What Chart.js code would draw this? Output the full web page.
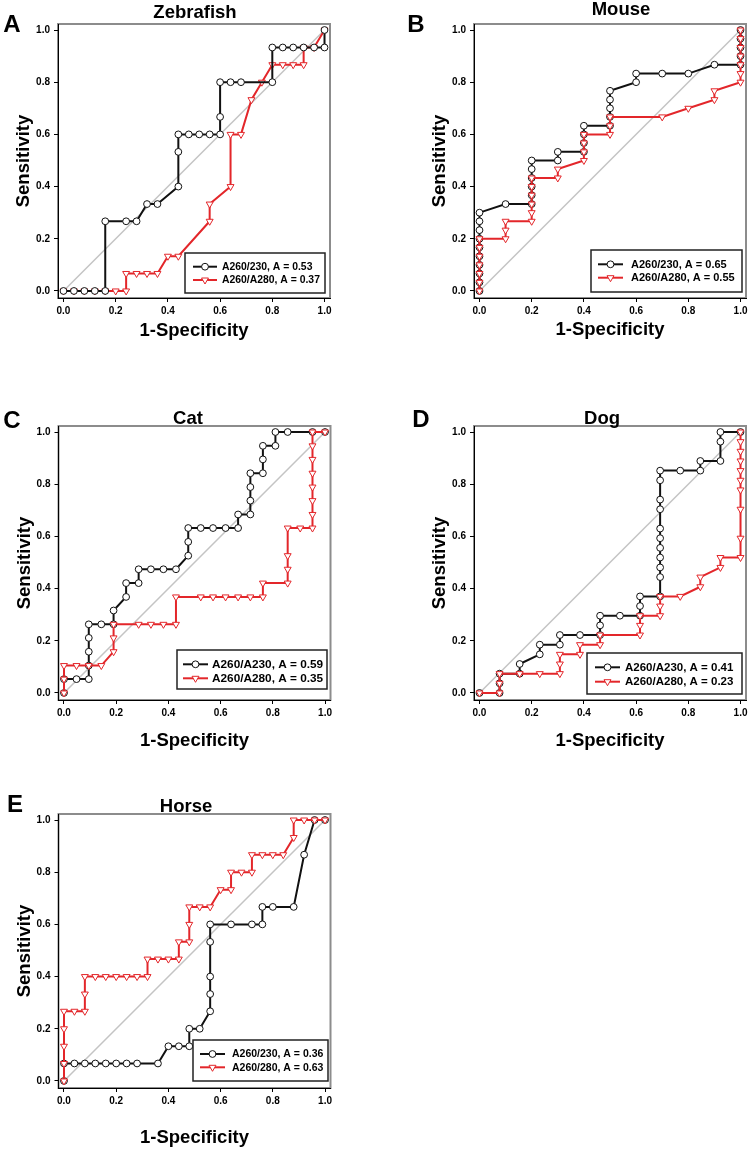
<!DOCTYPE html>
<html>
<head>
<meta charset="utf-8">
<script src="https://cdn.jsdelivr.net/npm/chart.js@4.4.0/dist/chart.umd.min.js"></script>
<style>
    html, body { margin: 0; padding: 0; background: #fff; width: 750px; height: 1150px; overflow: hidden; }
    body { position: relative; font-family: "Liberation Sans", Arial, sans-serif; }
    canvas { position: absolute; left: 0; top: 0; }
    .lbl { position: absolute; font-weight: bold; line-height: 1; white-space: nowrap; transform: translate(-50%, -50%); color: #000; }
</style>
</head>
<body>
<script>
// ROC curves, five species, two ratio markers each
const tickValues = [0, 0.2, 0.4, 0.6, 0.8, 1.0];
const tickLabels = ['0.0', '0.2', '0.4', '0.6', '0.8', '1.0'];
const diagonalX = [0, 1];
const diagonalY = [0, 1];

const panelLetters = ['A', 'B', 'C', 'D', 'E'];
const panelTitles = ['Zebrafish', 'Mouse', 'Cat', 'Dog', 'Horse'];
const xAxisTitle = '1-Specificity';
const yAxisTitle = 'Sensitivity';

// Zebrafish
const zebrafishX230 = [0, 0.04, 0.08, 0.12, 0.16, 0.16, 0.24, 0.28, 0.32, 0.36, 0.44, 0.44, 0.44, 0.48, 0.52, 0.56, 0.6, 0.6, 0.6, 0.64, 0.68, 0.8, 0.8, 0.84, 0.88, 0.92, 0.96, 1, 1];
const zebrafishY230 = [0, 0, 0, 0, 0, 0.267, 0.267, 0.267, 0.333, 0.333, 0.4, 0.533, 0.6, 0.6, 0.6, 0.6, 0.6, 0.667, 0.8, 0.8, 0.8, 0.8, 0.933, 0.933, 0.933, 0.933, 0.933, 0.933, 1];
const zebrafishX280 = [0, 0.04, 0.08, 0.12, 0.16, 0.2, 0.24, 0.24, 0.28, 0.32, 0.36, 0.4, 0.44, 0.56, 0.56, 0.64, 0.64, 0.68, 0.72, 0.76, 0.8, 0.84, 0.88, 0.92, 0.92, 0.96, 1];
const zebrafishY280 = [0, 0, 0, 0, 0, 0, 0, 0.067, 0.067, 0.067, 0.067, 0.133, 0.133, 0.267, 0.333, 0.4, 0.6, 0.6, 0.733, 0.8, 0.867, 0.867, 0.867, 0.867, 0.933, 0.933, 1];

// Mouse
const mouseX230 = [0, 0, 0, 0, 0, 0, 0, 0, 0, 0, 0.1, 0.2, 0.2, 0.2, 0.2, 0.2, 0.2, 0.3, 0.3, 0.4, 0.4, 0.4, 0.4, 0.5, 0.5, 0.5, 0.5, 0.5, 0.6, 0.6, 0.7, 0.8, 0.9, 1, 1, 1, 1, 1];
const mouseY230 = [0, 0.033, 0.067, 0.1, 0.133, 0.167, 0.2, 0.233, 0.267, 0.3, 0.333, 0.333, 0.367, 0.4, 0.433, 0.467, 0.5, 0.5, 0.533, 0.533, 0.567, 0.6, 0.633, 0.633, 0.667, 0.7, 0.733, 0.767, 0.8, 0.833, 0.833, 0.833, 0.867, 0.867, 0.9, 0.933, 0.967, 1];
const mouseX280 = [0, 0, 0, 0, 0, 0, 0, 0.1, 0.1, 0.1, 0.2, 0.2, 0.2, 0.2, 0.2, 0.2, 0.3, 0.3, 0.4, 0.4, 0.4, 0.4, 0.5, 0.5, 0.5, 0.7, 0.8, 0.9, 0.9, 1, 1, 1, 1, 1, 1, 1];
const mouseY280 = [0, 0.033, 0.067, 0.1, 0.133, 0.167, 0.2, 0.2, 0.233, 0.267, 0.267, 0.3, 0.333, 0.367, 0.4, 0.433, 0.433, 0.467, 0.5, 0.533, 0.567, 0.6, 0.6, 0.633, 0.667, 0.667, 0.7, 0.733, 0.767, 0.8, 0.833, 0.867, 0.9, 0.933, 0.967, 1];

// Cat
const catX230 = [0, 0, 0.048, 0.095, 0.095, 0.095, 0.095, 0.095, 0.143, 0.19, 0.19, 0.238, 0.238, 0.286, 0.286, 0.333, 0.381, 0.429, 0.476, 0.476, 0.476, 0.524, 0.571, 0.619, 0.667, 0.667, 0.714, 0.714, 0.714, 0.714, 0.762, 0.762, 0.762, 0.81, 0.81, 0.857, 0.952, 1];
const catY230 = [0, 0.053, 0.053, 0.053, 0.105, 0.158, 0.211, 0.263, 0.263, 0.263, 0.316, 0.368, 0.421, 0.421, 0.474, 0.474, 0.474, 0.474, 0.526, 0.579, 0.632, 0.632, 0.632, 0.632, 0.632, 0.684, 0.684, 0.737, 0.789, 0.842, 0.842, 0.895, 0.947, 0.947, 1, 1, 1, 1];
const catX280 = [0, 0, 0, 0.048, 0.095, 0.143, 0.19, 0.19, 0.19, 0.286, 0.333, 0.381, 0.429, 0.429, 0.524, 0.571, 0.619, 0.667, 0.714, 0.762, 0.762, 0.857, 0.857, 0.857, 0.857, 0.905, 0.952, 0.952, 0.952, 0.952, 0.952, 0.952, 0.952, 0.952, 1];
const catY280 = [0, 0.053, 0.105, 0.105, 0.105, 0.105, 0.158, 0.211, 0.263, 0.263, 0.263, 0.263, 0.263, 0.368, 0.368, 0.368, 0.368, 0.368, 0.368, 0.368, 0.421, 0.421, 0.474, 0.526, 0.632, 0.632, 0.632, 0.684, 0.737, 0.789, 0.842, 0.895, 0.947, 1, 1];

// Dog
const dogX230 = [0, 0.077, 0.077, 0.077, 0.154, 0.154, 0.231, 0.231, 0.308, 0.308, 0.385, 0.462, 0.462, 0.462, 0.538, 0.615, 0.615, 0.615, 0.692, 0.692, 0.692, 0.692, 0.692, 0.692, 0.692, 0.692, 0.692, 0.692, 0.692, 0.769, 0.846, 0.846, 0.923, 0.923, 0.923, 1];
const dogY230 = [0, 0, 0.037, 0.074, 0.074, 0.111, 0.148, 0.185, 0.185, 0.222, 0.222, 0.222, 0.259, 0.296, 0.296, 0.296, 0.333, 0.37, 0.37, 0.444, 0.481, 0.519, 0.556, 0.593, 0.63, 0.704, 0.741, 0.815, 0.852, 0.852, 0.852, 0.889, 0.889, 0.963, 1, 1];
const dogX280 = [0, 0.077, 0.077, 0.077, 0.154, 0.231, 0.308, 0.308, 0.308, 0.385, 0.385, 0.462, 0.462, 0.615, 0.615, 0.615, 0.692, 0.692, 0.692, 0.769, 0.846, 0.846, 0.923, 0.923, 1, 1, 1, 1, 1, 1, 1, 1, 1, 1];
const dogY280 = [0, 0, 0.037, 0.074, 0.074, 0.074, 0.074, 0.111, 0.148, 0.148, 0.185, 0.185, 0.222, 0.222, 0.259, 0.296, 0.296, 0.333, 0.37, 0.37, 0.407, 0.444, 0.481, 0.519, 0.519, 0.593, 0.704, 0.778, 0.815, 0.852, 0.889, 0.926, 0.963, 1];

// Horse
const horseX230 = [0, 0, 0.04, 0.08, 0.12, 0.16, 0.2, 0.24, 0.28, 0.36, 0.4, 0.44, 0.48, 0.48, 0.52, 0.56, 0.56, 0.56, 0.56, 0.56, 0.64, 0.72, 0.76, 0.76, 0.8, 0.88, 0.92, 0.96, 1];
const horseY230 = [0, 0.067, 0.067, 0.067, 0.067, 0.067, 0.067, 0.067, 0.067, 0.067, 0.133, 0.133, 0.133, 0.2, 0.2, 0.267, 0.333, 0.4, 0.533, 0.6, 0.6, 0.6, 0.6, 0.667, 0.667, 0.667, 0.867, 1, 1];
const horseX280 = [0, 0, 0, 0, 0, 0.04, 0.08, 0.08, 0.08, 0.12, 0.16, 0.2, 0.24, 0.28, 0.32, 0.32, 0.36, 0.4, 0.44, 0.44, 0.48, 0.48, 0.48, 0.52, 0.56, 0.6, 0.64, 0.64, 0.68, 0.72, 0.72, 0.76, 0.8, 0.84, 0.88, 0.88, 0.92, 0.96, 1];
const horseY280 = [0, 0.067, 0.133, 0.2, 0.267, 0.267, 0.267, 0.333, 0.4, 0.4, 0.4, 0.4, 0.4, 0.4, 0.4, 0.467, 0.467, 0.467, 0.467, 0.533, 0.533, 0.6, 0.667, 0.667, 0.667, 0.733, 0.733, 0.8, 0.8, 0.8, 0.867, 0.867, 0.867, 0.867, 0.933, 1, 1, 1, 1];

const legend230 = ['A260/230, A = 0.53', 'A260/230, A = 0.65', 'A260/A230, A = 0.59', 'A260/A230, A = 0.41', 'A260/230, A = 0.36'];
const legend280 = ['A260/A280, A = 0.37', 'A260/A280, A = 0.55', 'A260/A280, A = 0.35', 'A260/A280, A = 0.23', 'A260/280, A = 0.63'];

const series230 = [[zebrafishX230, zebrafishY230], [mouseX230, mouseY230], [catX230, catY230], [dogX230, dogY230], [horseX230, horseY230]];
const series280 = [[zebrafishX280, zebrafishY280], [mouseX280, mouseY280], [catX280, catY280], [dogX280, dogY280], [horseX280, horseY280]];

// page geometry of each panel (chart area, labels, legend box)
const panelLayout = [
    { frame: [58, 24, 272, 274], xTitleGap: 33, title: [195, 12], letter: [12, 24], blackOnTop: true,
      legend: { box: [185, 253, 140, 40], rows: [266.7, 280], line: [193, 217], textX: 222, font: 10.4 } },
    { frame: [474, 24, 272, 274], xTitleGap: 32, title: [621, 9], letter: [416, 24], blackOnTop: false,
      legend: { box: [591, 250, 151, 42], rows: [264.3, 277.7], line: [598, 623], textX: 631, font: 11 } },
    { frame: [58.5, 426, 272, 274], xTitleGap: 41, title: [188, 418], letter: [12, 420], blackOnTop: false,
      legend: { box: [177, 650, 150, 39], rows: [664.3, 678.3], line: [183, 208], textX: 212, font: 11.8 } },
    { frame: [474, 426, 272, 274], xTitleGap: 41, title: [602, 418], letter: [421, 419], blackOnTop: false,
      legend: { box: [587, 653, 155, 41], rows: [667.3, 681.7], line: [595, 620], textX: 625, font: 11.5 } },
    { frame: [58.5, 814, 272, 274], xTitleGap: 50, title: [186, 806], letter: [15, 804], blackOnTop: false,
      legend: { box: [193, 1040, 135, 41], rows: [1054, 1067.3], line: [200, 225], textX: 232, font: 10.5 } }
];

const BLACK = '#111111';
const RED = '#e3262a';
const FONT = '"Liberation Sans", Arial, sans-serif';
Chart.defaults.font.family = FONT;

const framePlugin = {
    id: 'frame',
    beforeDraw(chart) {
        const { ctx, chartArea: a } = chart;
        ctx.save();
        ctx.strokeStyle = '#8c8c8c';
        ctx.lineWidth = 2;
        ctx.strokeRect(a.left, a.top, a.right - a.left, a.bottom - a.top);
        ctx.restore();
    }
};

function drawMarker(ctx, style, x, y, r, color) {
    ctx.fillStyle = '#fff';
    ctx.strokeStyle = color;
    ctx.lineWidth = 1;
    ctx.beginPath();
    if (style === 'circle') {
        ctx.arc(x, y, r, 0, Math.PI * 2);
    } else {
        // downward triangle
        ctx.moveTo(x, y + r);
        ctx.lineTo(x - r * 0.866, y - r * 0.5);
        ctx.lineTo(x + r * 0.866, y - r * 0.5);
        ctx.closePath();
    }
    ctx.fill();
    ctx.stroke();
}

const legendPlugin = {
    id: 'rocLegend',
    afterDatasetsDraw(chart, args, opts) {
        const { ctx } = chart;
        const g = opts.layout;
        ctx.save();
        ctx.fillStyle = '#fff';
        ctx.fillRect(g.box[0], g.box[1], g.box[2], g.box[3]);
        ctx.strokeStyle = '#222';
        ctx.lineWidth = 1.5;
        ctx.strokeRect(g.box[0], g.box[1], g.box[2], g.box[3]);
        opts.items.forEach((it, k) => {
            const y = g.rows[k];
            ctx.strokeStyle = it.color;
            ctx.lineWidth = 2;
            ctx.beginPath();
            ctx.moveTo(g.line[0], y);
            ctx.lineTo(g.line[1], y);
            ctx.stroke();
            drawMarker(ctx, it.style, (g.line[0] + g.line[1]) / 2, y, it.radius, it.color);
            ctx.fillStyle = '#000';
            ctx.font = `bold ${g.font}px ${FONT}`;
            ctx.textBaseline = 'middle';
            ctx.textAlign = 'left';
            ctx.fillText(it.text, g.textX, y + 0.5);
        });
        ctx.restore();
    }
};

function makeSeries(pair, color, style, radius) {
    const [xs, ys] = pair;
    return {
        data: xs.map((x, k) => ({ x, y: ys[k] })),
        showLine: true,
        borderColor: color,
        borderWidth: 2,
        pointStyle: style,
        pointRadius: radius,
        pointHoverRadius: radius,
        pointRotation: style === 'triangle' ? 180 : 0,
        pointBackgroundColor: '#fff',
        pointBorderColor: color,
        pointBorderWidth: 1
    };
}

function addLabel(text, pos, size) {
    const d = document.createElement('div');
    d.className = 'lbl';
    d.textContent = text;
    d.style.left = pos[0] + 'px';
    d.style.top = pos[1] + 'px';
    d.style.fontSize = size + 'px';
    document.body.appendChild(d);
}

const CANVAS_W = 800, CANVAS_H = 1150;
const Y_AXIS_W = 50;

panelLayout.forEach((p, i) => {
    const [L, T, W, H] = p.frame;
    const xH = p.xTitleGap + 11;
    const canvas = document.createElement('canvas');
    canvas.width = CANVAS_W;
    canvas.height = CANVAS_H;
    canvas.style.width = CANVAS_W + 'px';
    canvas.style.height = CANVAS_H + 'px';
    document.body.appendChild(canvas);

    const black = makeSeries(series230[i], BLACK, 'circle', 3.4);
    const red = makeSeries(series280[i], RED, 'triangle', 4);
    const diag = {
        data: diagonalX.map((x, k) => ({ x, y: diagonalY[k] })),
        showLine: true, borderColor: '#c4c4c4', borderWidth: 1.5, pointRadius: 0, pointHoverRadius: 0
    };
    // first dataset is drawn last (on top)
    const datasets = p.blackOnTop ? [black, red, diag] : [red, black, diag];

    new Chart(canvas, {
        type: 'scatter',
        data: { datasets },
        options: {
            responsive: false,
            animation: false,
            devicePixelRatio: 1,
            events: [],
            layout: { padding: { left: L - Y_AXIS_W, top: T, right: CANVAS_W - (L + W), bottom: CANVAS_H - (T + H) - xH } },
            plugins: {
                legend: { display: false },
                tooltip: { enabled: false },
                rocLegend: {
                    layout: p.legend,
                    items: [
                        { text: legend230[i], color: BLACK, style: 'circle', radius: 3.4 },
                        { text: legend280[i], color: RED, style: 'triangle', radius: 4 }
                    ]
                }
            },
            scales: {
                x: {
                    type: 'linear', min: -0.021, max: 1.021,
                    afterFit: s => { s.height = xH; },
                    afterBuildTicks: s => { s.ticks = tickValues.map(v => ({ value: v })); },
                    ticks: { callback: (v, k) => tickLabels[k], font: { size: 10, weight: 'bold' }, color: '#000', padding: 3, maxRotation: 0, autoSkip: false },
                    grid: { drawOnChartArea: false, drawTicks: true, tickLength: 4, color: '#000' },
                    border: { display: true, color: '#000', width: 1 },
                    title: { display: true, text: xAxisTitle, color: '#000', font: { size: 18.5, weight: 'bold' }, padding: { top: 0, bottom: 0 } }
                },
                y: {
                    type: 'linear', min: -0.027, max: 1.023,
                    afterFit: s => { s.width = Y_AXIS_W; },
                    afterBuildTicks: s => { s.ticks = tickValues.map(v => ({ value: v })); },
                    ticks: { callback: (v, k) => tickLabels[k], font: { size: 10, weight: 'bold' }, color: '#000', padding: 4, autoSkip: false },
                    grid: { drawOnChartArea: false, drawTicks: true, tickLength: 4, color: '#000' },
                    border: { display: true, color: '#000', width: 1 },
                    title: { display: true, text: yAxisTitle, color: '#000', font: { size: 18.5, weight: 'bold' }, padding: { top: 5, bottom: 0 } }
                }
            }
        },
        plugins: [framePlugin, legendPlugin]
    });

    addLabel(panelTitles[i], p.title, 18.5);
    addLabel(panelLetters[i], p.letter, 24);
});
</script>
</body>
</html>
